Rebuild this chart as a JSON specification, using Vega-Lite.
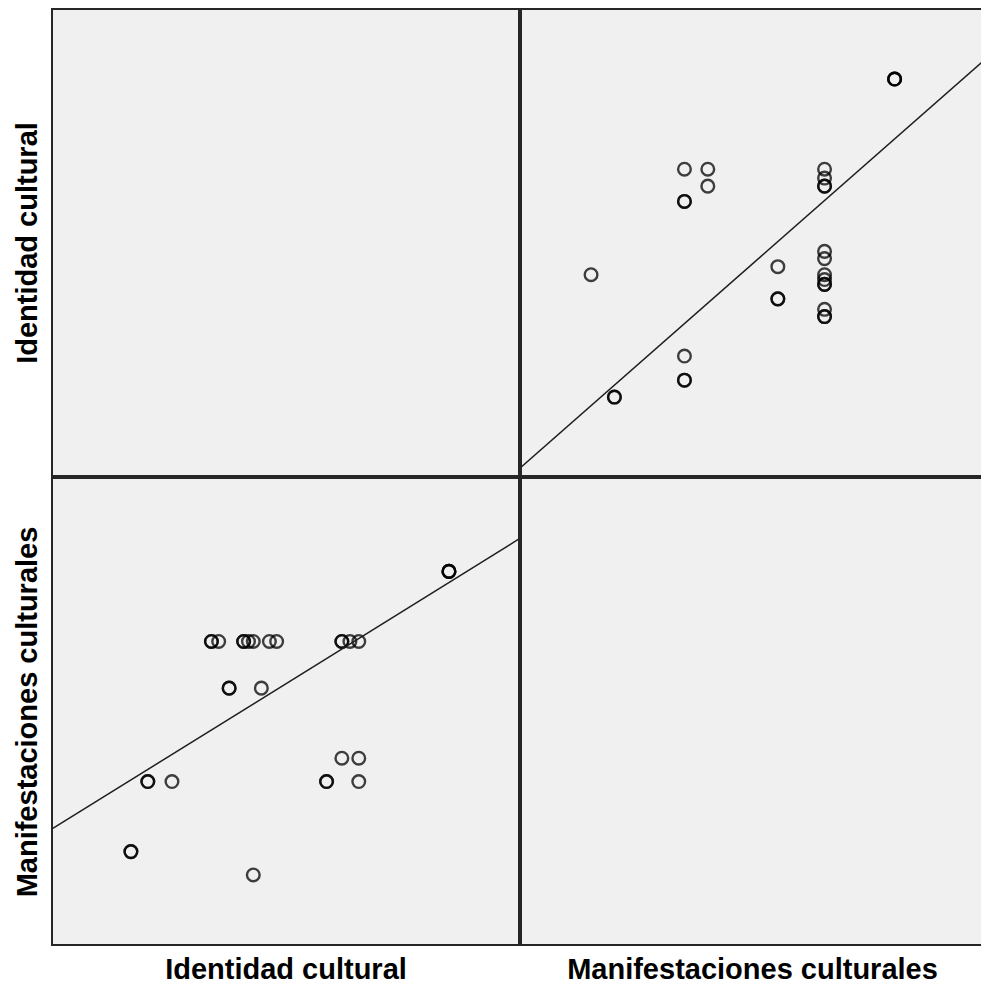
{
  "$schema": "https://vega.github.io/schema/vega-lite/v6.json",
  "background": "white",
  "padding": {"left": 12, "top": 8, "right": 0, "bottom": 0},
  "datasets": {
    "puntos": [
      {"identidad": 39.8, "manifestaciones": 14},
      {"identidad": 39.8, "manifestaciones": 14},
      {"identidad": 55.0, "manifestaciones": 13},
      {"identidad": 41.9, "manifestaciones": 17},
      {"identidad": 41.9, "manifestaciones": 17},
      {"identidad": 44.9, "manifestaciones": 17},
      {"identidad": 64.1, "manifestaciones": 17},
      {"identidad": 64.1, "manifestaciones": 17},
      {"identidad": 68.1, "manifestaciones": 17},
      {"identidad": 66.0, "manifestaciones": 18},
      {"identidad": 68.1, "manifestaciones": 18},
      {"identidad": 52.0, "manifestaciones": 21},
      {"identidad": 52.0, "manifestaciones": 21},
      {"identidad": 56.0, "manifestaciones": 21},
      {"identidad": 49.8, "manifestaciones": 23},
      {"identidad": 49.8, "manifestaciones": 23},
      {"identidad": 50.7, "manifestaciones": 23},
      {"identidad": 53.8, "manifestaciones": 23},
      {"identidad": 53.8, "manifestaciones": 23},
      {"identidad": 54.4, "manifestaciones": 23},
      {"identidad": 55.0, "manifestaciones": 23},
      {"identidad": 57.0, "manifestaciones": 23},
      {"identidad": 57.9, "manifestaciones": 23},
      {"identidad": 66.0, "manifestaciones": 23},
      {"identidad": 66.0, "manifestaciones": 23},
      {"identidad": 67.0, "manifestaciones": 23},
      {"identidad": 68.1, "manifestaciones": 23},
      {"identidad": 79.3, "manifestaciones": 26},
      {"identidad": 79.3, "manifestaciones": 26},
      {"identidad": 79.3, "manifestaciones": 26}
    ],
    "ajuste_manif_sobre_ident": [
      {"identidad": 30, "manifestaciones": 14.97},
      {"identidad": 88, "manifestaciones": 27.39}
    ],
    "ajuste_ident_sobre_manif": [
      {"manifestaciones": 10, "identidad": 31.1},
      {"manifestaciones": 29.786, "identidad": 81.5}
    ]
  },
  "config": {
    "view": {"fill": "#f0f0f0", "stroke": "#262626", "strokeWidth": 2},
    "axis": {
      "domain": false,
      "ticks": false,
      "labels": false,
      "grid": false,
      "titleFont": "Liberation Sans",
      "titleFontSize": 29,
      "titleFontWeight": "bold",
      "titleColor": "#000000",
      "titlePadding": 10
    },
    "point": {"shape": "circle", "filled": false, "size": 160, "strokeWidth": 2.4, "color": "#000000", "opacity": 0.74},
    "line": {"color": "#1e1e1e", "strokeWidth": 1.5}
  },
  "spacing": 0,
  "vconcat": [
    {
      "spacing": 0,
      "hconcat": [
        {
          "width": 467,
          "height": 467,
          "data": {"name": "puntos"},
          "mark": {"type": "point", "opacity": 0},
          "encoding": {
            "x": {"field": "manifestaciones", "type": "quantitative", "scale": {"domain": [10, 30], "nice": false, "zero": false}, "axis": {"title": null}},
            "y": {"field": "identidad", "type": "quantitative", "scale": {"domain": [30, 88], "nice": false, "zero": false}, "axis": {"title": "Identidad cultural"}}
          }
        },
        {
          "width": 462,
          "height": 467,
          "encoding": {
            "x": {"field": "manifestaciones", "type": "quantitative", "scale": {"domain": [10, 29.786], "nice": false, "zero": false}, "axis": {"title": null}},
            "y": {"field": "identidad", "type": "quantitative", "scale": {"domain": [30, 88], "nice": false, "zero": false}, "axis": {"title": null}}
          },
          "layer": [
            {"data": {"name": "puntos"}, "mark": {"type": "point"}},
            {"data": {"name": "ajuste_ident_sobre_manif"}, "mark": {"type": "line", "clip": true}}
          ]
        }
      ]
    },
    {
      "spacing": 0,
      "hconcat": [
        {
          "width": 467,
          "height": 467,
          "encoding": {
            "x": {"field": "identidad", "type": "quantitative", "scale": {"domain": [30, 88], "nice": false, "zero": false}, "axis": {"title": "Identidad cultural"}},
            "y": {"field": "manifestaciones", "type": "quantitative", "scale": {"domain": [10, 30], "nice": false, "zero": false}, "axis": {"title": "Manifestaciones culturales"}}
          },
          "layer": [
            {"data": {"name": "puntos"}, "mark": {"type": "point"}},
            {"data": {"name": "ajuste_manif_sobre_ident"}, "mark": {"type": "line", "clip": true}}
          ]
        },
        {
          "width": 462,
          "height": 467,
          "data": {"name": "puntos"},
          "mark": {"type": "point", "opacity": 0},
          "encoding": {
            "x": {"field": "manifestaciones", "type": "quantitative", "scale": {"domain": [10, 29.786], "nice": false, "zero": false}, "axis": {"title": "Manifestaciones culturales"}},
            "y": {"field": "identidad", "type": "quantitative", "scale": {"domain": [30, 88], "nice": false, "zero": false}, "axis": {"title": null}}
          }
        }
      ]
    }
  ]
}
